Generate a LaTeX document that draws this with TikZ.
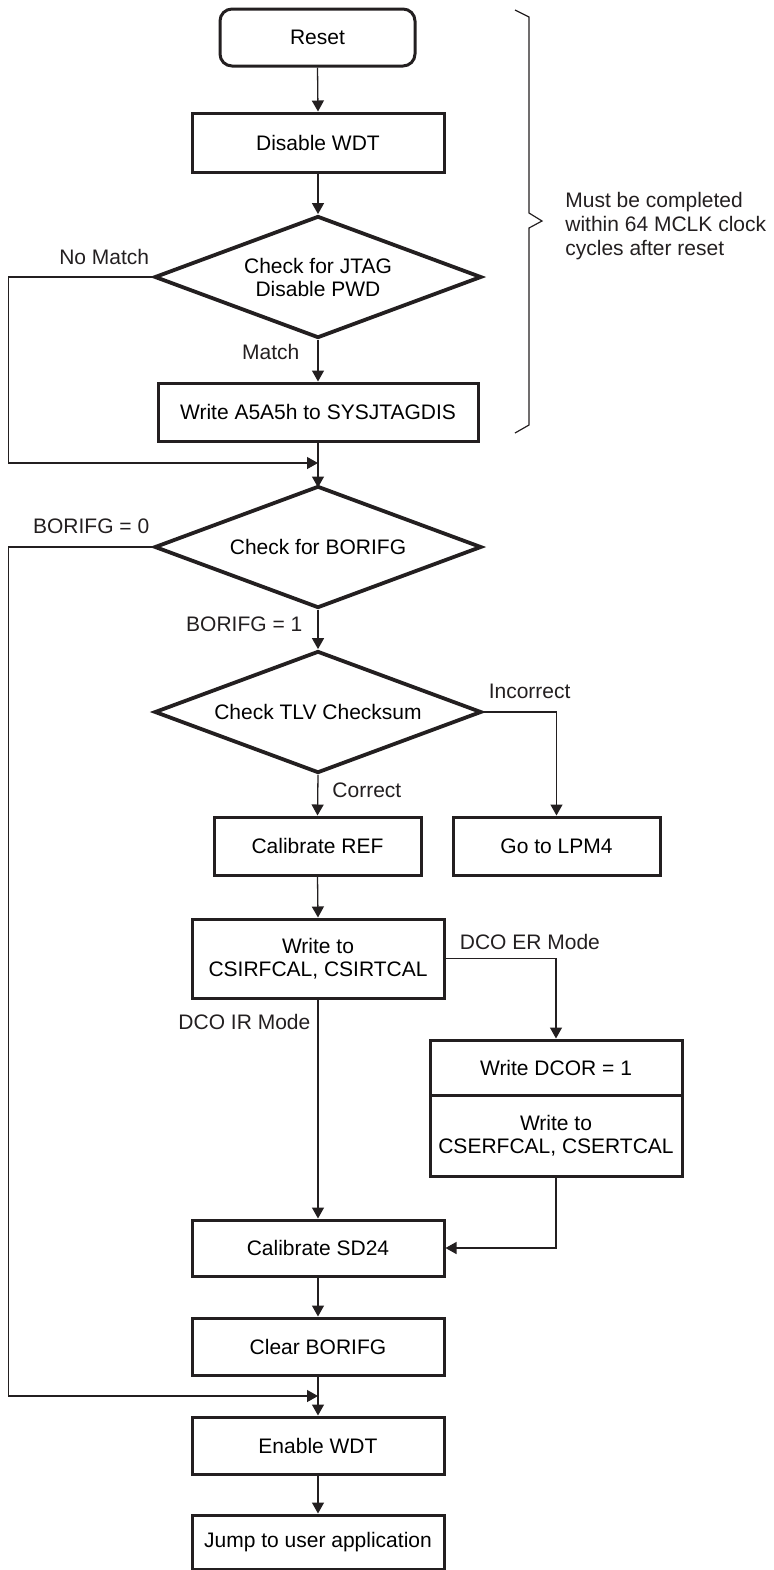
\documentclass[tikz,border=0pt]{standalone}
\usepackage{fontspec}
\setmainfont{Liberation Sans}
\definecolor{tiblack}{RGB}{35,31,32}
\usetikzlibrary{arrows.meta,positioning,shapes.geometric}

\begin{document}
\begin{tikzpicture}[x=0.5pt, y=-0.5pt,
  proc/.style={draw=tiblack, line width=1.5pt, minimum width=126pt, minimum height=28.5pt, inner sep=2pt, align=center, font=\fontsize{10.5}{11.5}\selectfont},
  term/.style={proc, rounded corners=6pt, minimum width=97.5pt},
  dec/.style={diamond, aspect=2.67, draw=tiblack, line width=1.9pt, minimum width=163.5pt, minimum height=61pt, inner sep=0pt, align=center, font=\fontsize{10.5}{11.5}\selectfont},
  lbl/.style={inner sep=0pt, text=tiblack, font=\fontsize{10.5}{12}\selectfont},
  arr/.style={-{Triangle[length=5.5pt,width=6pt]}, line width=0.65pt, color=tiblack},
  wire/.style={line width=0.65pt, color=tiblack}
]
  \useasboundingbox (0,0) rectangle (773,1570);

  %% Start-up sequence
  \node[term] (reset) at (317.5,37.5) {Reset};
  \node[proc, minimum height=29.5pt] (dis) at (318,142.5) {Disable WDT};
  \node[dec] (jtag) at (318,277) {Check for JTAG\\Disable PWD};
  \node[proc, minimum width=160pt, minimum height=29pt] (a5a5) at (318,412) {Write A5A5h to SYSJTAGDIS};
  \coordinate (j1) at (318,463);

  \draw[arr] (reset.south) -- (dis.north);
  \draw[arr] (dis.south) -- (jtag.north);
  \draw[arr] (jtag.south) -- (a5a5.north) node[lbl, pos=0.3, left=9pt] {Match};
  \draw[arr] (jtag.west) -- ++(-144,0) |- (j1);
  \node[lbl, above left=5.75pt and 1.5pt of jtag.west] (nomatch) {No Match};
  \draw[arr] (a5a5.south) -- ++(0,45);

  %% Time limit note
  \draw[wire, line width=0.6pt] (515,10) -- (529,17) -- (529,213) -- (542,221) -- (529,228) -- (529,425) -- (515,433);
  \node[lbl, align=left, anchor=west] (note) at (565,226) {Must be completed\\within 64 MCLK clock\\cycles after reset};

  %% Calibration
  \node[dec] (bor) at (318,547) {Check for BORIFG};
  \node[dec] (tlv) at (318,712) {Check TLV Checksum};
  \node[proc, minimum width=103.5pt, minimum height=29pt] (calref) at (317.5,846) {Calibrate REF};
  \node[proc, minimum width=103.5pt, minimum height=29pt] (lpm4) at (556.5,846) {Go to LPM4};
  \node[proc, minimum height=39.5pt] (csi) at (318,958.5) {Write to\\CSIRFCAL, CSIRTCAL};
  \node[proc, minimum height=27.5pt] (dcor) at (556,1067.5) {Write DCOR = 1};
  \node[proc, minimum height=40.5pt] (cser) at (556,1135.5) {Write to\\CSERFCAL, CSERTCAL};
  \node[proc, minimum height=28pt] (sd24) at (318,1248) {Calibrate SD24};
  \node[proc] (clr) at (318,1346.5) {Clear BORIFG};
  \coordinate (j2) at (318,1396);
  \node[proc] (ena) at (318,1445.5) {Enable WDT};
  \node[proc, minimum height=27pt] (jump) at (318,1542) {Jump to user application};

  \draw[arr] (bor.south) -- (tlv.north) node[lbl, pos=0.37, left=7.5pt] {BORIFG = 1};
  \draw[arr] (bor.west) -- ++(-144,0) |- (j2);
  \node[lbl, above left=6.25pt and 1.5pt of bor.west] (bor0) {BORIFG = 0};
  \draw[arr] (tlv.south) -- (calref.north) node[lbl, pos=0.39, right=7pt] {Correct};
  \draw[arr] (tlv.east) -| (lpm4.north);
  \node[lbl, above right=6.25pt and 2.5pt of tlv.east] (incorr) {Incorrect};
  \draw[arr] (calref.south) -- (csi.north);
  \draw[arr] (csi.east) -| (dcor.north);
  \node[lbl, above right=4.25pt and 7pt of csi.east] (dcoer) {DCO ER Mode};
  \draw[arr] (csi.south) -- (sd24.north) node[lbl, pos=0.104, left=3.5pt] {DCO IR Mode};
  \draw[arr] (cser.south) |- (sd24.east);
  \draw[arr] (sd24.south) -- (clr.north);
  \draw[arr] (clr.south) -- (ena.north);
  \draw[arr] (ena.south) -- (jump.north);
\end{tikzpicture}
\end{document}
